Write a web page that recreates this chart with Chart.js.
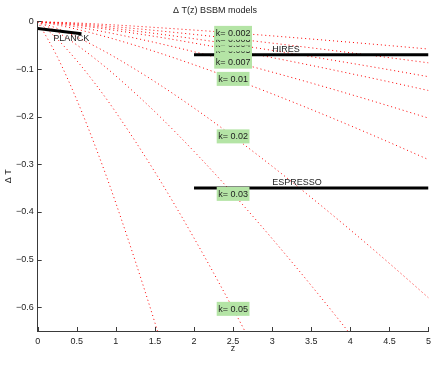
<!DOCTYPE html>
<html>
<head>
<meta charset="utf-8">
<script src="https://cdn.jsdelivr.net/npm/chart.js@4.4.1/dist/chart.umd.min.js"></script>
<style>
  html, body { margin: 0; padding: 0; background: #fff; }
  #wrap { width: 436px; height: 374px; }
</style>
</head>
<body>
<div id="wrap"><canvas id="dtChart" width="436" height="374"></canvas></div>
<script>
// z grid and Delta T, one array per k
const zGrid = [0, 0.25, 0.5, 0.75, 1, 1.5, 2, 2.5, 3, 3.5, 4, 4.5, 5];

const dT_k0002 = [0, -0.0015, -0.0033, -0.0054, -0.0076, -0.0127, -0.0182, -0.0241, -0.0304, -0.0370, -0.0438, -0.0508, -0.0580];
const dT_k0003 = [0, -0.0022, -0.0049, -0.0080, -0.0114, -0.0190, -0.0273, -0.0362, -0.0456, -0.0555, -0.0657, -0.0762, -0.0870];
const dT_k0004 = [0, -0.0030, -0.0066, -0.0107, -0.0153, -0.0253, -0.0364, -0.0483, -0.0608, -0.0740, -0.0876, -0.1016, -0.1161];
const dT_k0005 = [0, -0.0037, -0.0082, -0.0134, -0.0191, -0.0316, -0.0455, -0.0603, -0.0760, -0.0924, -0.1095, -0.1270, -0.1451];
const dT_k0007 = [0, -0.0052, -0.0115, -0.0188, -0.0267, -0.0443, -0.0637, -0.0845, -0.1065, -0.1294, -0.1532, -0.1778, -0.2031];
const dT_k001  = [0, -0.0074, -0.0165, -0.0268, -0.0382, -0.0633, -0.0910, -0.1207, -0.1521, -0.1849, -0.2189, -0.2541, -0.2902];
const dT_k002  = [0, -0.0148, -0.0329, -0.0536, -0.0763, -0.1266, -0.1819, -0.2414, -0.3042, -0.3698, -0.4378, -0.5081, -0.5803];
const dT_k003  = [0, -0.0222, -0.0494, -0.0804, -0.1145, -0.1898, -0.2729, -0.3621, -0.4562, -0.5546, -0.6568, -0.7622, null];
const dT_k005  = [0, -0.0371, -0.0824, -0.1340, -0.1908, -0.3164, -0.4549, -0.6035, -0.7604, null, null, null, null];
const dT_k01   = [0, -0.0741, -0.1647, -0.2680, -0.3815, -0.6328, -0.9097, null, null, null, null, null, null];

const modelSeries = [dT_k0002, dT_k0003, dT_k0004, dT_k0005, dT_k0007, dT_k001, dT_k002, dT_k003, dT_k005, dT_k01];
// labels (k= 0.1 has none, it leaves the plot before z=2.5)
const kLabels = ['k= 0.002', 'k= 0.003', 'k= 0.004', 'k= 0.005', 'k= 0.007', 'k= 0.01', 'k= 0.02', 'k= 0.03', 'k= 0.05'];
const kLabelZ = 2.5;

// observational constraints
const planckZ = [0, 0.56];
const planckDT = [-0.015, -0.026];
const hiresZ = [2, 5];
const hiresDT = [-0.07, -0.07];
const espressoZ = [2, 5];
const espressoDT = [-0.35, -0.35];
const obsNames = ['PLANCK', 'HIRES', 'ESPRESSO'];
const obsTextZ = [0.2, 3.0, 3.0];
const obsTextDT = [-0.035, -0.06, -0.339];

const xTicks = [0, 0.5, 1, 1.5, 2, 2.5, 3, 3.5, 4, 4.5, 5];
const yTicks = [0, -0.1, -0.2, -0.3, -0.4, -0.5, -0.6];

const FONT = '"Liberation Sans", Arial, Helvetica, sans-serif';
const axisColor = '#3a3a3a';
const textColor = '#222';

function toPoints(xs, ys) {
  return xs.map((v, i) => ({x: v, y: ys[i]}));
}

const datasets = [];
modelSeries.forEach(s => {
  datasets.push({
    data: toPoints(zGrid, s),
    borderColor: 'rgb(255,0,0)',
    borderWidth: 1,
    borderDash: [1, 3],
    pointRadius: 0,
    cubicInterpolationMode: 'monotone',
    spanGaps: false,
    order: 2
  });
});
[[planckZ, planckDT], [hiresZ, hiresDT], [espressoZ, espressoDT]].forEach(o => {
  datasets.push({
    data: toPoints(o[0], o[1]),
    borderColor: '#000',
    borderWidth: 3,
    pointRadius: 0,
    order: 1
  });
});

// inward ticks, instrument names and the green k boxes
const annotate = {
  id: 'annotate',
  afterDatasetsDraw(chart) {
    const {ctx, chartArea, scales: {x, y}} = chart;
    ctx.save();
    ctx.strokeStyle = axisColor;
    ctx.lineWidth = 1;
    xTicks.forEach(v => {
      const px = Math.round(x.getPixelForValue(v)) + 0.5;
      ctx.beginPath();
      ctx.moveTo(px, chartArea.bottom);
      ctx.lineTo(px, chartArea.bottom - 4);
      ctx.stroke();
    });
    yTicks.forEach(v => {
      const py = Math.round(y.getPixelForValue(v)) + 0.5;
      ctx.beginPath();
      ctx.moveTo(chartArea.left, py);
      ctx.lineTo(chartArea.left + 4, py);
      ctx.stroke();
    });

    ctx.font = '9px ' + FONT;
    ctx.textBaseline = 'middle';
    ctx.fillStyle = textColor;
    ctx.textAlign = 'left';
    obsNames.forEach((n, i) => {
      ctx.fillText(n, x.getPixelForValue(obsTextZ[i]), y.getPixelForValue(obsTextDT[i]));
    });

    // boxes drawn from largest k to smallest, like the original
    const idx = zGrid.indexOf(kLabelZ);
    ctx.textAlign = 'center';
    for (let i = kLabels.length - 1; i >= 0; i--) {
      const cx = x.getPixelForValue(kLabelZ);
      const cy = y.getPixelForValue(modelSeries[i][idx]);
      const w = ctx.measureText(kLabels[i]).width + 3;
      const h = 14;
      ctx.fillStyle = 'rgb(180,228,165)';
      ctx.fillRect(cx - w / 2, cy - h / 2, w, h);
      ctx.fillStyle = textColor;
      ctx.fillText(kLabels[i], cx, cy + 0.5);
    }
    ctx.restore();
  }
};

const ctx = document.getElementById('dtChart').getContext('2d');
new Chart(ctx, {
  type: 'line',
  data: {datasets: datasets},
  plugins: [annotate],
  options: {
    responsive: false,
    animation: false,
    events: [],
    layout: {padding: {left: 0, right: 6, top: 0, bottom: 0}},
    plugins: {
      legend: {display: false},
      tooltip: {enabled: false},
      title: {
        display: true,
        text: '\u0394 T(z) BSBM models',
        color: textColor,
        font: {family: FONT, size: 9, weight: 'normal'},
        padding: {top: 5, bottom: 5.6}
      }
    },
    scales: {
      x: {
        type: 'linear',
        min: 0,
        max: 5,
        grid: {display: false, drawTicks: false},
        border: {display: true, color: axisColor},
        afterBuildTicks: s => { s.ticks = xTicks.map(v => ({value: v})); },
        afterFit: s => { s.height = 43; },
        ticks: {
          color: textColor,
          padding: 5,
          maxRotation: 0,
          font: {family: FONT, size: 9},
          callback: v => String(v)
        },
        title: {
          display: true,
          text: 'z',
          color: textColor,
          font: {family: FONT, size: 9},
          padding: {top: 0, bottom: 19.6}
        }
      },
      y: {
        type: 'linear',
        min: -0.65,
        max: 0,
        grid: {display: false, drawTicks: false},
        border: {display: true, color: axisColor},
        afterBuildTicks: s => { s.ticks = yTicks.map(v => ({value: v})); },
        afterFit: s => { s.width = 37.7; },
        ticks: {
          color: textColor,
          padding: 4,
          font: {family: FONT, size: 9},
          callback: v => v < 0 ? '\u2212' + String(Math.abs(v)) : String(v)
        },
        title: {
          display: true,
          text: '\u0394 T',
          color: textColor,
          font: {family: FONT, size: 9},
          padding: {top: 3, bottom: 0}
        }
      }
    }
  }
});
</script>
</body>
</html>
